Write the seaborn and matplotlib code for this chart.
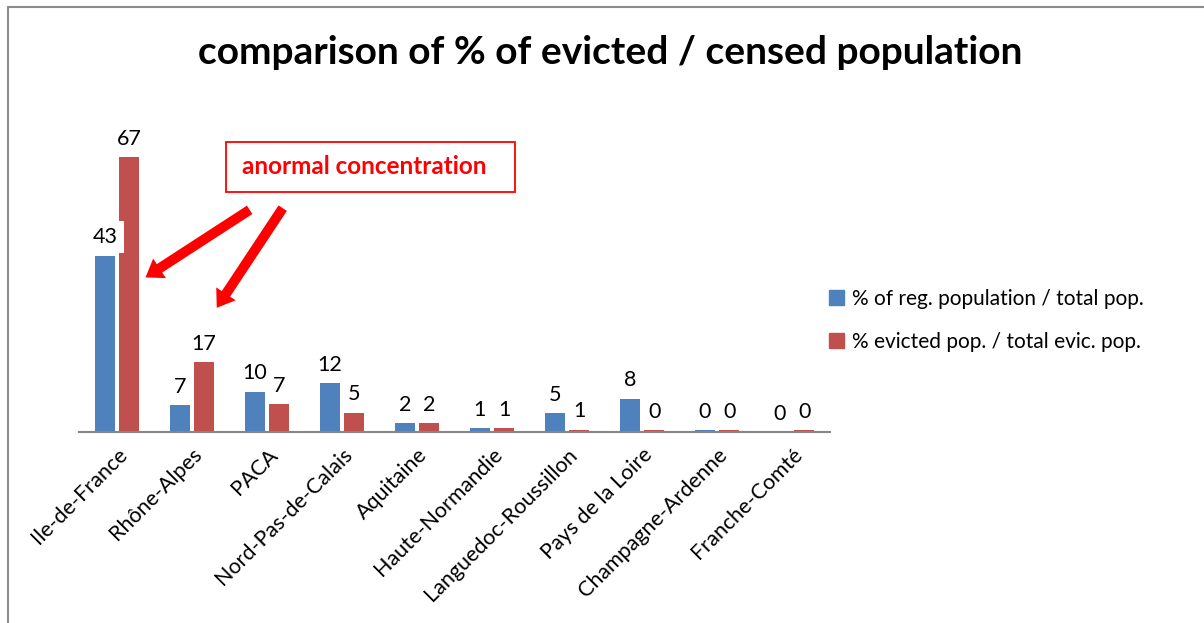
import numpy as np
import pandas as pd
import matplotlib
matplotlib.use("Agg")
import matplotlib.pyplot as plt
from matplotlib.lines import Line2D
from matplotlib.patches import Rectangle
import seaborn as sns

# Regions and the two shares (in %)
REGIONS = ['Ile-de-France', 'Rhône-Alpes', 'PACA', 'Nord-Pas-de-Calais', 'Aquitaine',
           'Haute-Normandie', 'Languedoc-Roussillon', 'Pays de la Loire',
           'Champagne-Ardenne', 'Franche-Comté']
POP_SHARE = [43, 6.6, 9.8, 11.9, 2.1, 0.9, 4.6, 8.1, 0.4, 0.0]
EVICTED_SHARE = [67, 17, 6.8, 4.7, 2.1, 0.9, 0.55, 0.45, 0.45, 0.45]
SERIES = ['% of reg. population / total pop.', '% evicted pop. / total evic. pop.']
COLORS = ['#4F81BD', '#C0504D']

sns.set_theme(style="white")
plt.rcParams['font.family'] = ['Lato', 'DejaVu Sans']
plt.rcParams['text.color'] = 'black'

df = pd.DataFrame({
    'region': REGIONS * 2,
    'value': POP_SHARE + EVICTED_SHARE,
    'series': [SERIES[0]] * len(REGIONS) + [SERIES[1]] * len(REGIONS),
})

fig = plt.figure(figsize=(12.04, 6.23), dpi=100)
ax = fig.add_axes([0.066, 0.3066, 0.623, 0.527])

sns.barplot(data=df, x='region', y='value', hue='series', palette=COLORS,
            saturation=1, width=0.65, gap=0.18, linewidth=0,
            ax=ax, legend=False)

ax.set_ylim(0, 80)
ax.set_xlim(-0.5, len(REGIONS) - 0.5)
ax.set_xlabel('')
ax.set_ylabel('')
ax.set_yticks([])
for side in ['left', 'right', 'top']:
    ax.spines[side].set_visible(False)
ax.spines['bottom'].set_color('#868686')
ax.spines['bottom'].set_linewidth(1.5)
ax.spines['bottom'].set_zorder(6)
ax.tick_params(axis='x', length=0, pad=9)
plt.setp(ax.get_xticklabels(), rotation=45, ha='right', rotation_mode='anchor',
         fontsize=15.5, color='black')

# value labels with white background (Excel style)
for cont in ax.containers:
    ax.bar_label(cont, fmt='%.0f', padding=6, fontsize=15.5, color='black',
                 bbox=dict(facecolor='white', edgecolor='none', pad=4.5))

# legend
handles = [plt.Rectangle((0, 0), 1, 1, color=c) for c in COLORS]
fig.legend(handles, SERIES, loc='center left', bbox_to_anchor=(0.673, 0.486),
           frameon=False, fontsize=15, handlelength=0.7, handleheight=0.7,
           handletextpad=0.4, labelspacing=1.1)

fig.suptitle('comparison of % of evicted / censed population', x=0.507, y=0.915,
             va='center', fontsize=28, fontweight='bold', color='black')

# annotation box and arrows
ax.add_patch(Rectangle((1.453, 58.5), 3.854, 12.1, facecolor='white',
                       edgecolor='#FF0000', linewidth=1.3, zorder=4))
ax.text(3.30, 64.6, 'anormal concentration', color='#FF0000', fontsize=17.5,
        fontweight='bold', ha='center', va='center', zorder=5)
arrow = dict(arrowstyle='simple,head_length=1.0,head_width=1.4,tail_width=0.6',
             color='#FF0000', lw=0)
ax.annotate('', xy=(0.35, 37.3), xytext=(1.80, 54.5), arrowprops=arrow)
ax.annotate('', xy=(1.31, 29.7), xytext=(2.23, 55.1), arrowprops=arrow)

# chart frame (top and left edges visible)
fig.add_artist(Line2D([8 / 1204, 1], [1 - 7 / 623, 1 - 7 / 623],
                      transform=fig.transFigure, color='#8C8C8C', lw=1.5))
fig.add_artist(Line2D([8 / 1204, 8 / 1204], [0, 1 - 7 / 623],
                      transform=fig.transFigure, color='#8C8C8C', lw=1.5))

fig.savefig('out.png', dpi=100)
